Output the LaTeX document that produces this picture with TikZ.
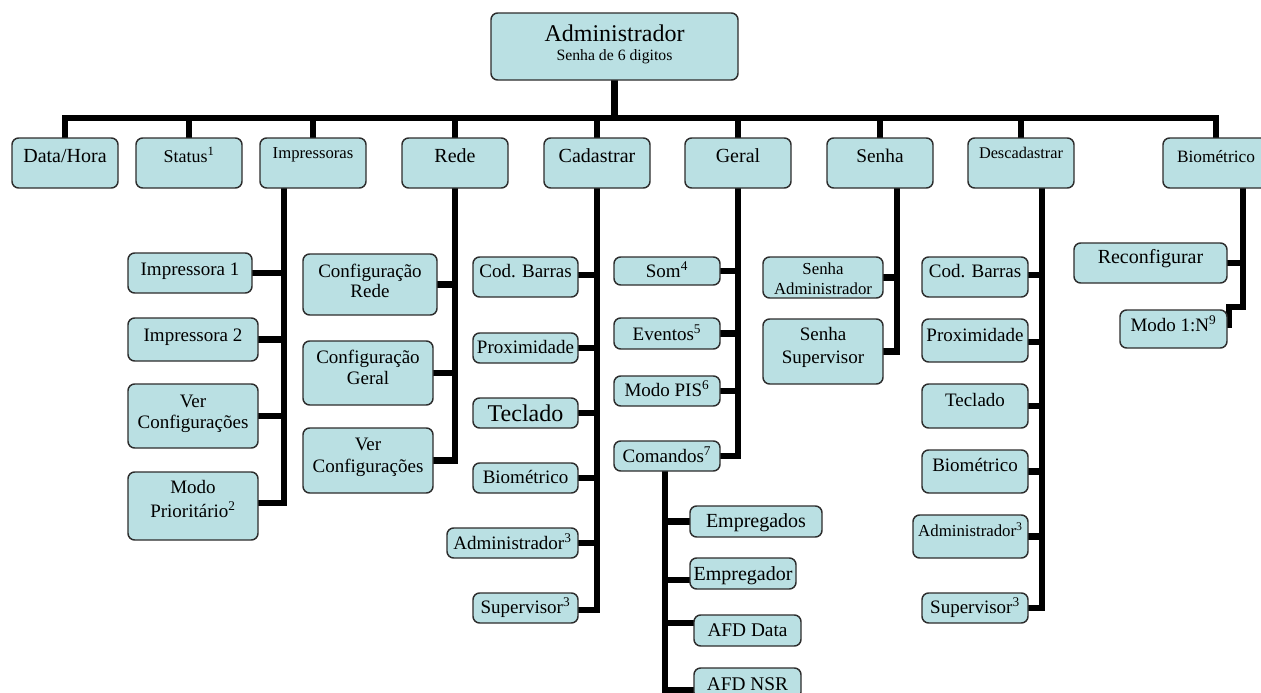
\documentclass[tikz,border=0pt]{standalone}
\usepackage{fontspec}
\setmainfont{Liberation Serif}
\usetikzlibrary{calc}
\newlength\pxu \setlength\pxu{0.75pt}
\newcommand{\txtat}[2]{\raisebox{#1\pxu}[0pt][0pt]{\makebox[0pt]{#2}}}
\newcommand{\fsz}[1]{\fontsize{#1}{#1}\selectfont}
\newcommand{\bx}[6]{\node[box,minimum width=#4*0.75pt,minimum height=#5*0.75pt] (#1) at (#2,#3) {#6};}
\definecolor{boxfill}{RGB}{186,224,227}
\definecolor{boxline}{RGB}{45,45,45}
\pgfdeclarelayer{bg}\pgfdeclarelayer{lines}\pgfsetlayers{bg,lines,main}
\begin{document}
\begin{tikzpicture}[x=0.75pt,y=-0.75pt,
  box/.style={draw=boxline, fill=boxfill, line width=1.1pt, rounded corners=5pt, inner sep=0pt, outer sep=0pt},
  conn/.style={line width=5pt, black, line cap=rect, line join=miter}]
\useasboundingbox (0,0) rectangle (1261,693);
\begin{pgfonlayer}{bg}
\fill[white] (0,0) rectangle (1261,693);
\end{pgfonlayer}
% root
\bx{adm}{614.5}{46.5}{247}{67}{\txtat{5.5}{\fsz{18}Administrador}\txtat{-13.5}{\fsz{11.8}Senha de 6 digitos}}
% top level
\bx{dh}{65}{163}{106}{50}{\txtat{1}{\fsz{15}Data/Hora}}
\bx{st}{189}{163}{106}{50}{\txtat{1}{\fsz{13.5}Status\textsuperscript{1}}}
\bx{impr}{313}{163}{106}{50}{\txtat{5}{\fsz{12.5}Impressoras}}
\bx{rede}{455}{163}{106}{50}{\txtat{1}{\fsz{15}Rede}}
\bx{cad}{597}{163}{106}{50}{\txtat{1}{\fsz{15}Cadastrar}}
\bx{geral}{738}{163}{106}{50}{\txtat{1}{\fsz{15}Geral}}
\bx{senha}{880}{163}{106}{50}{\txtat{1}{\fsz{14.5}Senha}}
\bx{desc}{1021}{163}{106}{50}{\txtat{5}{\fsz{12.2}Descadastrar}}
\bx{bio}{1216}{163}{106}{50}{\txtat{1}{\fsz{13}Biométrico}}
% Impressoras
\bx{imp1}{190}{273}{124}{40}{\txtat{-2}{\fsz{14.25}Impressora 1}}
\bx{imp2}{193}{339.5}{130}{43}{\txtat{-1.5}{\fsz{14.25}Impressora 2}}
\bx{vc1}{193}{416}{130}{64}{\txtat{9}{\fsz{14.25}Ver}\txtat{-12}{\fsz{14.25}Configurações}}
\bx{modo}{193}{506}{130}{68}{\txtat{13}{\fsz{14.25}Modo}\txtat{-11}{\fsz{14.25}Prioritário\textsuperscript{2}}}
% Rede
\bx{cr}{370}{284.5}{134}{61}{\txtat{7.5}{\fsz{14.25}Configuração}\txtat{-12.5}{\fsz{14.25}Rede}}
\bx{cg}{368}{373}{130}{64}{\txtat{10}{\fsz{14.25}Configuração}\txtat{-11}{\fsz{14.25}Geral}}
\bx{vc2}{368}{460.5}{130}{65}{\txtat{10.5}{\fsz{14.25}Ver}\txtat{-11.5}{\fsz{14.25}Configurações}}
% Cadastrar
\bx{cb}{525.5}{277}{105}{40}{\txtat{0}{\fsz{14.25}Cod. Barras}}
\bx{px}{525.5}{348}{105}{30}{\txtat{-5}{\fsz{14.25}Proximidade}}
\bx{tc}{525.5}{413}{105}{30}{\txtat{-8}{\fsz{18}Teclado}}
\bx{bm}{525.5}{478}{105}{30}{\txtat{-5}{\fsz{14.25}Biométrico}}
\bx{ad}{512.5}{543}{131}{30}{\txtat{-6}{\fsz{14.25}Administrador\textsuperscript{3}}}
\bx{sv}{525.5}{608}{105}{30}{\txtat{-5}{\fsz{14.25}Supervisor\textsuperscript{3}}}
% Geral
\bx{som}{667}{271}{106}{28}{\txtat{-6}{\fsz{14.25}Som\textsuperscript{4}}}
\bx{ev}{667}{333.5}{106}{31}{\txtat{-6.5}{\fsz{14.25}Eventos\textsuperscript{5}}}
\bx{pis}{667}{391}{106}{30}{\txtat{-5}{\fsz{14.25}Modo PIS\textsuperscript{6}}}
\bx{cmd}{667}{456}{106}{30}{\txtat{-6}{\fsz{14.25}Comandos\textsuperscript{7}}}
% Comandos
\bx{emp}{756}{521.5}{132}{31}{\txtat{-5.5}{\fsz{15}Empregados}}
\bx{epr}{743}{573.5}{106}{31}{\txtat{-6.5}{\fsz{15}Empregador}}
\bx{afdd}{747.5}{630.5}{107}{31}{\txtat{-5.5}{\fsz{14.5}AFD Data}}
\bx{afdn}{747.5}{683.5}{107}{31}{\txtat{-6.5}{\fsz{14.5}AFD NSR}}
% Senha
\bx{sa}{823}{277.5}{120}{41}{\txtat{3.5}{\fsz{12.6}Senha}\txtat{-16.5}{\fsz{12.6}Administrador}}
\bx{ss}{823}{351.5}{120}{65}{\txtat{11.5}{\fsz{14.25}Senha}\txtat{-11.5}{\fsz{14.25}Supervisor}}
% Descadastrar
\bx{dcb}{975}{277}{106}{40}{\txtat{0}{\fsz{14.25}Cod. Barras}}
\bx{dpx}{975}{340.5}{106}{43}{\txtat{-0.5}{\fsz{14.25}Proximidade}}
\bx{dtc}{975}{406}{106}{44}{\txtat{0}{\fsz{14.25}Teclado}}
\bx{dbm}{975}{471.5}{106}{43}{\txtat{0.5}{\fsz{14.25}Biométrico}}
\bx{dad}{970.5}{536.5}{115}{43}{\txtat{0.5}{\fsz{12.6}Administrador\textsuperscript{3}}}
\bx{dsv}{975}{608}{106}{30}{\txtat{-5}{\fsz{14.25}Supervisor\textsuperscript{3}}}
% Biometrico
\bx{rec}{1150.5}{263}{153}{40}{\txtat{0}{\fsz{15}Reconfigurar}}
\bx{m1n}{1173.5}{329}{107}{38}{\txtat{-2}{\fsz{14.25}Modo 1:N\textsuperscript{9}}}
% connectors
\begin{pgfonlayer}{lines}
\coordinate (bus) at (615,118);
\draw[conn] (adm.south) -- (adm.south |- bus);
\draw[conn] (dh.north |- bus) -- (bio.north |- bus);
\foreach \n in {dh,st,impr,rede,cad,geral,senha,desc,bio} \draw[conn] (\n.north |- bus) -- (\n.north);
% Impressoras
\coordinate (impcol) at (284,188);
\draw[conn] (impcol) |- ($(modo.east)+(0,-3)$);
\foreach \n in {imp1,imp2,vc1} \draw[conn] (\n.east) -| (impcol);
% Rede
\draw[conn] (rede.south) |- (vc2.east);
\foreach \n in {cr,cg} \draw[conn] (\n.east) -| (rede.south);
% Cadastrar
\draw[conn] (cad.south) |- ($(sv.east)+(0,2)$);
\draw[conn] ($(cb.east)+(0,-2)$) -| (cad.south);
\foreach \n in {px,tc,bm,ad} \draw[conn] (\n.east) -| (cad.south);
% Geral
\draw[conn] (geral.south) |- (cmd.east);
\foreach \n in {som,ev,pis} \draw[conn] (\n.east) -| (geral.south);
% Comandos
\coordinate (cmdcol) at (665,471);
\draw[conn] (cmdcol) |- ($(afdn.west)+(0,6.5)$);
\draw[conn] (emp.west) -| (cmdcol);
\draw[conn] ($(epr.west)+(0,6.5)$) -| (cmdcol);
\draw[conn] ($(afdd.west)+(0,-7.5)$) -| (cmdcol);
% Senha
\coordinate (sencol) at (897,188);
\draw[conn] (sencol) |- (ss.east);
\draw[conn] (sa.east) -| (sencol);
% Descadastrar
\coordinate (desccol) at (1042,188);
\draw[conn] (desccol) |- (dsv.east);
\draw[conn] ($(dcb.east)+(0,-2)$) -| (desccol);
\draw[conn] ($(dpx.east)+(0,1.5)$) -| (desccol);
\foreach \n in {dtc,dbm,dad} \draw[conn] (\n.east) -| (desccol);
% Biometrico
\coordinate (biocol) at (1243,188);
\draw[conn] (biocol) |- ($(m1n.north east)+(2,-3)$) -- ($(m1n.north east)+(2,15)$);
\draw[conn] (rec.east) -| (biocol);
\end{pgfonlayer}
\end{tikzpicture}
\end{document}
